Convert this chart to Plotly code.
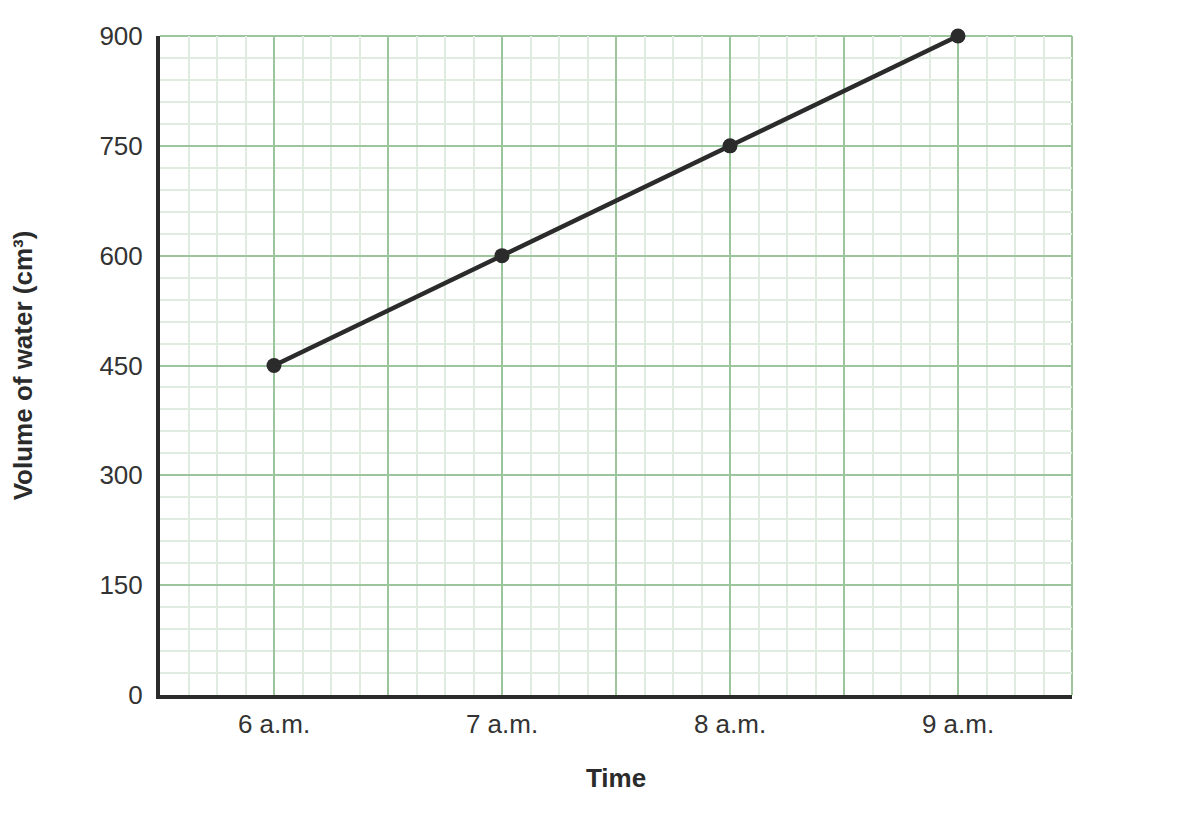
import plotly.graph_objects as go

# Data
hours = [6, 7, 8, 9]
time_labels = ["6 a.m.", "7 a.m.", "8 a.m.", "9 a.m."]
volumes = [450, 600, 750, 900]

# major vertical grid every half hour, labels only on the hour
x_ticks = [h + d for h in [5] + hours for d in (0.5, 1.0)][:-1]
x_text = [time_labels[hours.index(t)] if t in hours else "" for t in x_ticks]

major_grid = '#9dc59d'
minor_grid = '#e1ece1'
ink = '#2b2b2b'

fig = go.Figure()

fig.add_trace(go.Scatter(
    x=hours,
    y=volumes,
    mode='lines+markers',
    line=dict(color=ink, width=4.5),
    marker=dict(size=15, color=ink),
    showlegend=False,
    cliponaxis=False
))

# green border on top and right (major grid at the range edges)
fig.add_shape(type='line', xref='paper', yref='paper', x0=0, x1=1, y0=1, y1=1,
              line=dict(color=major_grid, width=2), layer='below')
fig.add_shape(type='line', xref='paper', yref='paper', x0=1, x1=1, y0=0, y1=1,
              line=dict(color=major_grid, width=2), layer='below')

fig.update_layout(
    width=1200,
    height=840,
    margin=dict(l=152, r=136, t=28, b=153),
    plot_bgcolor='white',
    paper_bgcolor='white',
    font=dict(family='Liberation Sans, Arial, sans-serif', size=26, color='#333333'),
    xaxis=dict(
        range=[5.5, 9.5],
        tickmode='array',
        tickvals=x_ticks,
        ticktext=x_text,
        showgrid=True,
        gridcolor=major_grid,
        gridwidth=2,
        minor=dict(dtick=0.125, tick0=5.5, showgrid=True, gridcolor=minor_grid, gridwidth=2),
        showline=True,
        linecolor=ink,
        linewidth=4,
        zeroline=False,
        ticklabelstandoff=3,
        title=dict(text='<b>Time</b>', standoff=32, font=dict(size=26, color=ink))
    ),
    yaxis=dict(
        range=[0, 900],
        tickmode='linear',
        tick0=0,
        dtick=150,
        showgrid=True,
        gridcolor=major_grid,
        gridwidth=2,
        minor=dict(dtick=30, tick0=0, showgrid=True, gridcolor=minor_grid, gridwidth=2),
        showline=True,
        linecolor=ink,
        linewidth=4,
        zeroline=False,
        ticklabelstandoff=8,
        title=dict(text='<b>Volume of water (cm³)</b>', standoff=60, font=dict(size=26, color=ink))
    )
)

fig.write_html("out.html")
